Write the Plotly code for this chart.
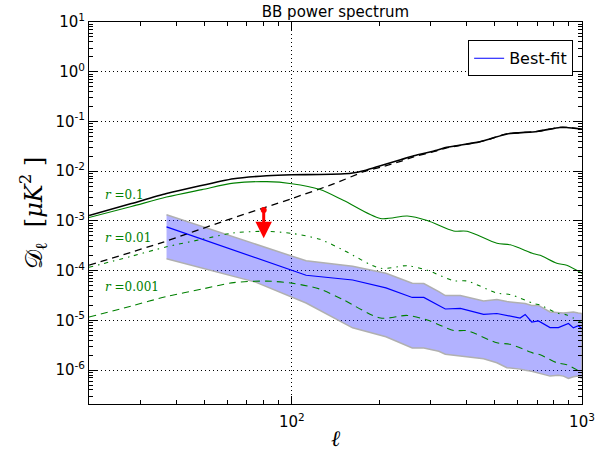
import plotly.graph_objects as go
import math

# ---------------- data ----------------
ell_total = [20, 28, 37, 63, 82, 100, 125, 160, 180, 202, 237, 263, 316, 342, 435, 483, 551, 700, 838, 886, 1000]
D_total = [1.29e-3, 2.24e-3, 3.55e-3, 7.08e-3, 8.13e-3, 8.51e-3, 8.6e-3, 9.12e-3, 1.05e-2, 1.29e-2, 1.70e-2,
           2.04e-2, 2.63e-2, 3.02e-2, 3.80e-2, 4.47e-2, 5.62e-2, 6.31e-2, 7.59e-2, 7.59e-2, 7.08e-2]

ell_lens = [20, 35, 60, 100, 140, 177, 202, 237, 263, 316, 342, 435, 483, 551, 700, 838, 886, 1000]
D_lens = [1.29e-4, 3.55e-4, 1.05e-3, 2.82e-3, 5.62e-3, 9.77e-3, 1.20e-2, 1.58e-2, 1.95e-2, 2.57e-2, 2.95e-2,
          3.80e-2, 4.47e-2, 5.62e-2, 6.31e-2, 7.59e-2, 7.59e-2, 7.08e-2]

ell_tens = [20, 28, 37, 49, 63, 82, 100, 125, 151, 202, 250, 293, 361, 402, 509, 566, 681, 718, 819, 886, 1000]
D_r01 = [1.17e-3, 1.95e-3, 3.02e-3, 4.27e-3, 5.75e-3, 6.17e-3, 5.62e-3, 4.27e-3, 2.57e-3, 1.12e-3, 1.26e-3,
         1.02e-3, 6.3e-4, 6.2e-4, 3.55e-4, 3.31e-4, 2.19e-4, 2.04e-4, 1.41e-4, 1.29e-4, 8.9e-5]
D_r001 = [1.17e-4, 1.95e-4, 3.02e-4, 4.27e-4, 5.75e-4, 6.17e-4, 5.62e-4, 4.27e-4, 2.57e-4, 1.12e-4, 1.26e-4,
          1.02e-4, 6.3e-5, 6.2e-5, 3.55e-5, 3.31e-5, 2.19e-5, 2.04e-5, 1.41e-5, 1.29e-5, 8.9e-6]
D_r0001 = [1.17e-5, 1.95e-5, 3.02e-5, 4.27e-5, 5.75e-5, 6.17e-5, 5.62e-5, 4.27e-5, 2.57e-5, 1.12e-5, 1.26e-5,
           1.02e-5, 6.3e-6, 6.2e-6, 3.55e-6, 3.31e-6, 2.19e-6, 2.04e-6, 1.41e-6, 1.29e-6, 8.9e-7]

ell_fit = [37, 75, 112, 162, 211, 260, 285, 321, 338, 381, 458, 509, 551, 612, 637, 671, 708, 776, 829, 863,
           898, 934, 971, 1000]
D_fit = [7.6e-4, 1.82e-4, 8.1e-5, 6.5e-5, 4.5e-5, 2.9e-5, 2.9e-5, 2.0e-5, 1.7e-5, 1.74e-5, 1.32e-5, 1.38e-5,
         1.26e-5, 1.12e-5, 1.32e-5, 9.3e-6, 9.8e-6, 7.2e-6, 7.2e-6, 7.9e-6, 8.7e-6, 7.1e-6, 7.8e-6, 6.8e-6]
D_fit_hi = [1.33e-3, 3.47e-4, 1.58e-4, 1.23e-4, 8.9e-5, 5.6e-5, 5.5e-5, 3.8e-5, 3.16e-5, 3.16e-5, 2.45e-5,
            2.63e-5, 2.4e-5, 2.24e-5, 2.19e-5, 2.0e-5, 2.0e-5, 1.48e-5, 1.45e-5, 1.41e-5, 1.45e-5, 1.48e-5,
            1.41e-5, 1.38e-5]
D_fit_lo = [1.74e-4, 5.9e-5, 2.24e-5, 7.1e-6, 4.7e-6, 2.8e-6, 2.8e-6, 2.4e-6, 2.1e-6, 1.9e-6, 1.7e-6, 1.41e-6,
            1.12e-6, 1.05e-6, 1.0e-6, 9.5e-7, 8.9e-7, 7.6e-7, 7.9e-7, 7.6e-7, 6.8e-7, 7.4e-7, 7.6e-7, 6.8e-7]

ell_limit = [80]
D_limit_top = [1.67e-3]
D_limit_tip = [4.5e-4]

r_labels = ["r=0.1", "r=0.01", "r=0.001"]

x_tickvals = [100, 1000]
x_ticktext = ["10<sup>2</sup>", "10<sup>3</sup>"]
y_tickvals = [1e-6, 1e-5, 1e-4, 1e-3, 1e-2, 1e-1, 1e0, 1e1]
y_ticktext = ["10<sup>-6</sup>", "10<sup>-5</sup>", "10<sup>-4</sup>", "10<sup>-3</sup>",
              "10<sup>-2</sup>", "10<sup>-1</sup>", "10<sup>0</sup>", "10<sup>1</sup>"]

# ---------------- figure ----------------
GREEN = "#008000"
fig = go.Figure()

# band
fig.add_trace(go.Scatter(x=ell_fit + ell_fit[::-1], y=D_fit_hi + D_fit_lo[::-1],
                         fill="toself", fillcolor="rgba(0,0,255,0.3)",
                         line=dict(color="#b0b0b0", width=1.5), mode="lines",
                         showlegend=False, hoverinfo="skip"))

fig.add_trace(go.Scatter(x=ell_lens, y=D_lens, mode="lines", line=dict(color="black", width=1.3, dash="7px,5px", shape="spline", smoothing=0.6), showlegend=False))
fig.add_trace(go.Scatter(x=ell_total, y=D_total, mode="lines", line=dict(color="black", width=1.6, shape="spline", smoothing=0.6), showlegend=False))
fig.add_trace(go.Scatter(x=ell_tens, y=D_r01, mode="lines", line=dict(color=GREEN, width=1.1, shape="spline", smoothing=0.8), showlegend=False))
fig.add_trace(go.Scatter(x=ell_tens, y=D_r001, mode="lines", line=dict(color=GREEN, width=1.1, dash="4px,5px,1.5px,5px", shape="spline", smoothing=0.8), showlegend=False))
fig.add_trace(go.Scatter(x=ell_tens, y=D_r0001, mode="lines", line=dict(color=GREEN, width=1.1, dash="7px,5px", shape="spline", smoothing=0.8), showlegend=False))

fig.add_trace(go.Scatter(x=ell_fit, y=D_fit, mode="lines", line=dict(color="#0000ff", width=1.2), name="Best-fit"))

# upper-limit arrow
fig.add_annotation(x=math.log10(ell_limit[0]), y=math.log10(D_limit_tip[0]),
                   ax=math.log10(ell_limit[0]), ay=math.log10(D_limit_top[0]),
                   xref="x", yref="y", axref="x", ayref="y", text="", showarrow=True,
                   arrowhead=2, arrowsize=1.1, arrowwidth=3, arrowcolor="red", standoff=0, startstandoff=0)
fig.add_trace(go.Scatter(x=ell_limit, y=D_limit_top, mode="markers",
                         marker=dict(color="red", size=6, symbol="circle"), showlegend=False))

# r labels
for lbl, yv in zip(r_labels, [-2.47, -3.34, -4.33]):
    fig.add_annotation(x=math.log10(22.3), y=yv, xref="x", yref="y", text="<i>r</i> " + lbl[1:],
                       showarrow=False, xanchor="left", yanchor="middle",
                       font=dict(family="DejaVu Serif", size=12, color=GREEN))

axis_common = dict(type="log", showline=True, linecolor="black", linewidth=1, mirror="allticks",
                   ticks="inside", ticklen=8, tickwidth=1, tickcolor="black", automargin=False,
                   showgrid=True, gridcolor="black", griddash="1px,3px", gridwidth=1,
                   zeroline=False, tickfont=dict(family="DejaVu Sans", size=15, color="black"))

fig.update_xaxes(**axis_common, range=[math.log10(20), 3], tickmode="array",
                 tickvals=x_tickvals, ticktext=x_ticktext, ticklabelstandoff=4,
                 minor=dict(ticks="inside", ticklen=4, tickcolor="black", showgrid=False,
                            tickvals=[20, 30, 40, 50, 60, 70, 80, 90, 200, 300, 400, 500, 600, 700, 800, 900]),
                 title=dict(text="<i>ℓ</i>", font=dict(family="DejaVu Serif", size=22, color="black"), standoff=0))
fig.update_yaxes(**axis_common, range=[-6.68, 1], tickmode="array",
                 tickvals=y_tickvals, ticktext=y_ticktext,
                 minor=dict(ticks="inside", ticklen=4, tickcolor="black", showgrid=False,
                            tickvals=[m * 10.0 ** e for e in range(-7, 1) for m in range(2, 10)]),
                 title=dict(text="𝒟<sub>ℓ</sub>  [<i>μK</i><sup>2</sup> ]",
                            font=dict(family="DejaVu Serif", size=24, color="black"), standoff=6))

fig.update_layout(
    width=613, height=453,
    margin=dict(l=89, r=31, t=22, b=49, autoexpand=False),
    paper_bgcolor="white", plot_bgcolor="white",
    title=dict(text="BB power spectrum", x=(89 + 582) / 2 / 613, xanchor="center", y=1 - 12 / 453, yanchor="middle",
               font=dict(family="DejaVu Sans", size=15, color="black")),
    legend=dict(x=0.982, y=0.952, xanchor="right", yanchor="top", bordercolor="black", borderwidth=1,
                bgcolor="white", font=dict(family="DejaVu Sans", size=16, color="black")),
    showlegend=True,
)

fig.write_html("out.html")
